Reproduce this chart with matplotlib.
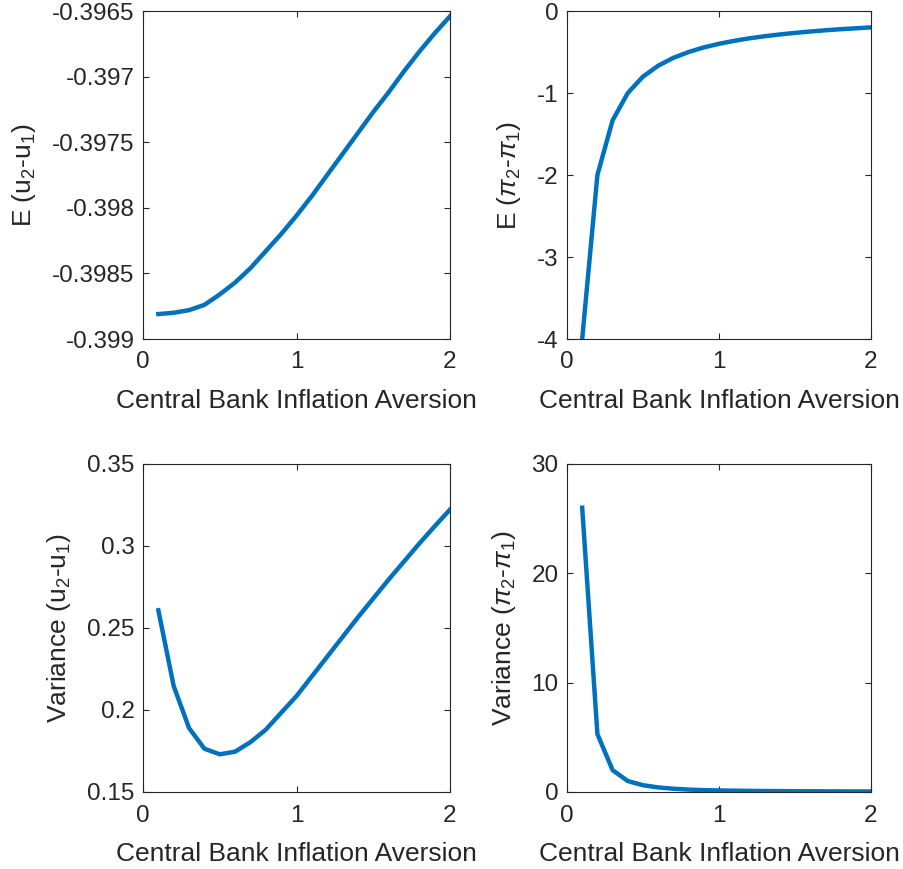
import numpy as np
import matplotlib
matplotlib.use("Agg")
import matplotlib.pyplot as plt
from matplotlib.ticker import FuncFormatter

plt.rcParams['font.family'] = ['Liberation Sans', 'DejaVu Sans']
plt.rcParams['mathtext.fontset'] = 'custom'
plt.rcParams['mathtext.rm'] = 'Liberation Sans'
plt.rcParams['mathtext.it'] = 'Liberation Sans:italic'
plt.rcParams['axes.unicode_minus'] = False

# inflation aversion grid
aversion = [0.1, 0.2, 0.3, 0.4, 0.5, 0.6, 0.7, 0.8, 0.9, 1.0,
            1.1, 1.2, 1.3, 1.4, 1.5, 1.6, 1.7, 1.8, 1.9, 2.0]

mean_u = [-0.39881, -0.39880, -0.39878, -0.39874, -0.39866, -0.39857, -0.39846,
          -0.39833, -0.39820, -0.39806, -0.39791, -0.39775, -0.39759, -0.39743,
          -0.39727, -0.39712, -0.39696, -0.39681, -0.39667, -0.39654]

mean_pi = [-4.0, -2.0, -1.333, -1.0, -0.8, -0.667, -0.571, -0.5, -0.444, -0.4,
           -0.364, -0.333, -0.308, -0.286, -0.267, -0.25, -0.235, -0.222, -0.211, -0.2]

var_u = [0.2608, 0.2146, 0.189, 0.1764, 0.173, 0.1746, 0.1804, 0.188, 0.1983, 0.2085,
         0.2205, 0.2325, 0.2445, 0.2565, 0.2680, 0.2795, 0.2905, 0.3015, 0.3120, 0.3222]

var_pi = [26.0, 5.3, 2.0, 1.0, 0.62, 0.42, 0.30, 0.22, 0.17, 0.14,
          0.12, 0.10, 0.09, 0.08, 0.07, 0.065, 0.06, 0.055, 0.05, 0.048]

xlab = 'Central Bank Inflation Aversion'
blue = '#0072BD'
W, H = 904, 869

panels = [
    # (series, ylabel, ylim, yticks, box in px: left, top, right, bottom)
    (mean_u, r'E (u$_2$-u$_1$)', (-0.399, -0.3965),
     [-0.399, -0.3985, -0.398, -0.3975, -0.397, -0.3965], (143, 11, 450, 339)),
    (mean_pi, r'E ($\pi_2$-$\pi_1$)', (-4, 0),
     [-4, -3, -2, -1, 0], (567, 11, 871, 339)),
    (var_u, r'Variance (u$_2$-u$_1$)', (0.15, 0.35),
     [0.15, 0.2, 0.25, 0.3, 0.35], (143, 464, 450, 792)),
    (var_pi, r'Variance ($\pi_2$-$\pi_1$)', (0, 30),
     [0, 10, 20, 30], (567, 464, 871, 792)),
]

fig = plt.figure(figsize=(W / 100, H / 100), dpi=100)

for series, ylabel, ylim, yticks, (l, t, r, b) in panels:
    ax = fig.add_axes([l / W, 1 - b / H, (r - l) / W, (b - t) / H])
    ax.plot(aversion, series, color=blue, linewidth=3.2, clip_on=True)
    ax.set_xlim(0, 2)
    ax.set_ylim(*ylim)
    ax.set_xticks([0, 1, 2])
    ax.set_yticks(yticks)
    ax.yaxis.set_major_formatter(FuncFormatter(lambda v, p: '%g' % round(v, 6)))
    ax.tick_params(direction='in', length=4, width=0.8, colors='#262626',
                   labelsize=17.5, top=True, right=True)
    ax.tick_params(axis='x', pad=9)
    ax.tick_params(axis='y', pad=6)
    for s in ax.spines.values():
        s.set_color('#262626')
        s.set_linewidth(0.8)
    ax.set_xlabel(xlab, fontsize=19, color='#262626', labelpad=11)
    ax.set_ylabel(ylabel, fontsize=19, color='#262626', labelpad=10)

fig.savefig('out.png', dpi=100)
